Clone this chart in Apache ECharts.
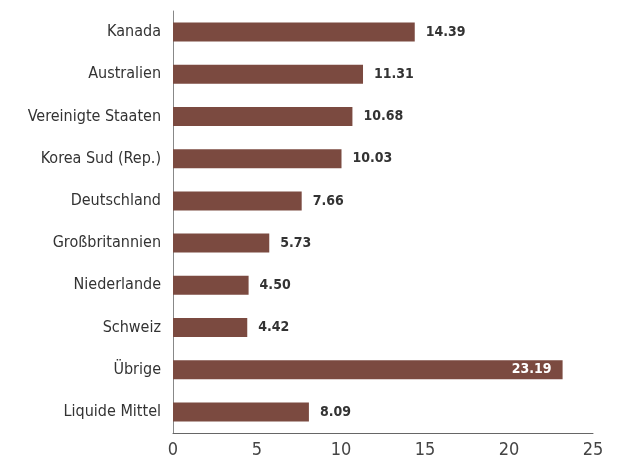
<!DOCTYPE html>
<html>
<head>
<meta charset="utf-8">
<script src="https://cdn.jsdelivr.net/npm/echarts@6/dist/echarts.min.js"></script>
<style>
  html, body { margin: 0; padding: 0; background: #fff; }
  #chart { width: 619px; height: 463px; }
</style>
</head>
<body>
<div id="chart"></div>
<script>
// categories listed top to bottom
const categories = ['Kanada', 'Australien', 'Vereinigte Staaten', 'Korea Sud (Rep.)', 'Deutschland',
  'Großbritannien', 'Niederlande', 'Schweiz', 'Übrige', 'Liquide Mittel'];
const values = [14.39, 11.31, 10.68, 10.03, 7.66, 5.73, 4.50, 4.42, 23.19, 8.09];
const insideLabels = ['Übrige']; // bars whose value sits inside the bar

const font = '"Liberation Sans Narrow", "DejaVu Sans Condensed", sans-serif';
const barColor = '#7b4a40';

const chart = echarts.init(document.getElementById('chart'));

const seriesData = values.map((v, i) => {
  const item = { value: v };
  if (insideLabels.includes(categories[i])) {
    item.label = { position: 'insideRight', color: '#fff', distance: 11 };
  }
  return item;
});

chart.setOption({
  animation: false,
  textStyle: { fontFamily: font },
  grid: { left: 173, right: 26, top: 11, bottom: 30, containLabel: false },
  xAxis: {
    type: 'value',
    min: 0,
    max: 25,
    interval: 5,
    axisLine: { show: true, lineStyle: { color: '#666', width: 1 } },
    axisTick: { show: false },
    splitLine: { show: false },
    axisLabel: { color: '#444', fontSize: 18, margin: 8, fontFamily: font }
  },
  yAxis: {
    type: 'category',
    data: categories,
    inverse: true,
    axisLine: { show: true, lineStyle: { color: '#888', width: 1 } },
    axisTick: { show: false },
    axisLabel: { color: '#333', fontSize: 16, margin: 12, fontFamily: font }
  },
  series: [{
    type: 'bar',
    data: seriesData,
    barWidth: 19,
    itemStyle: { color: barColor },
    label: {
      show: true,
      position: 'right',
      distance: 11,
      color: '#333',
      fontWeight: 'bold',
      fontSize: 14,
      fontFamily: font,
      formatter: p => p.value.toFixed(2)
    }
  }]
});
</script>
</body>
</html>
